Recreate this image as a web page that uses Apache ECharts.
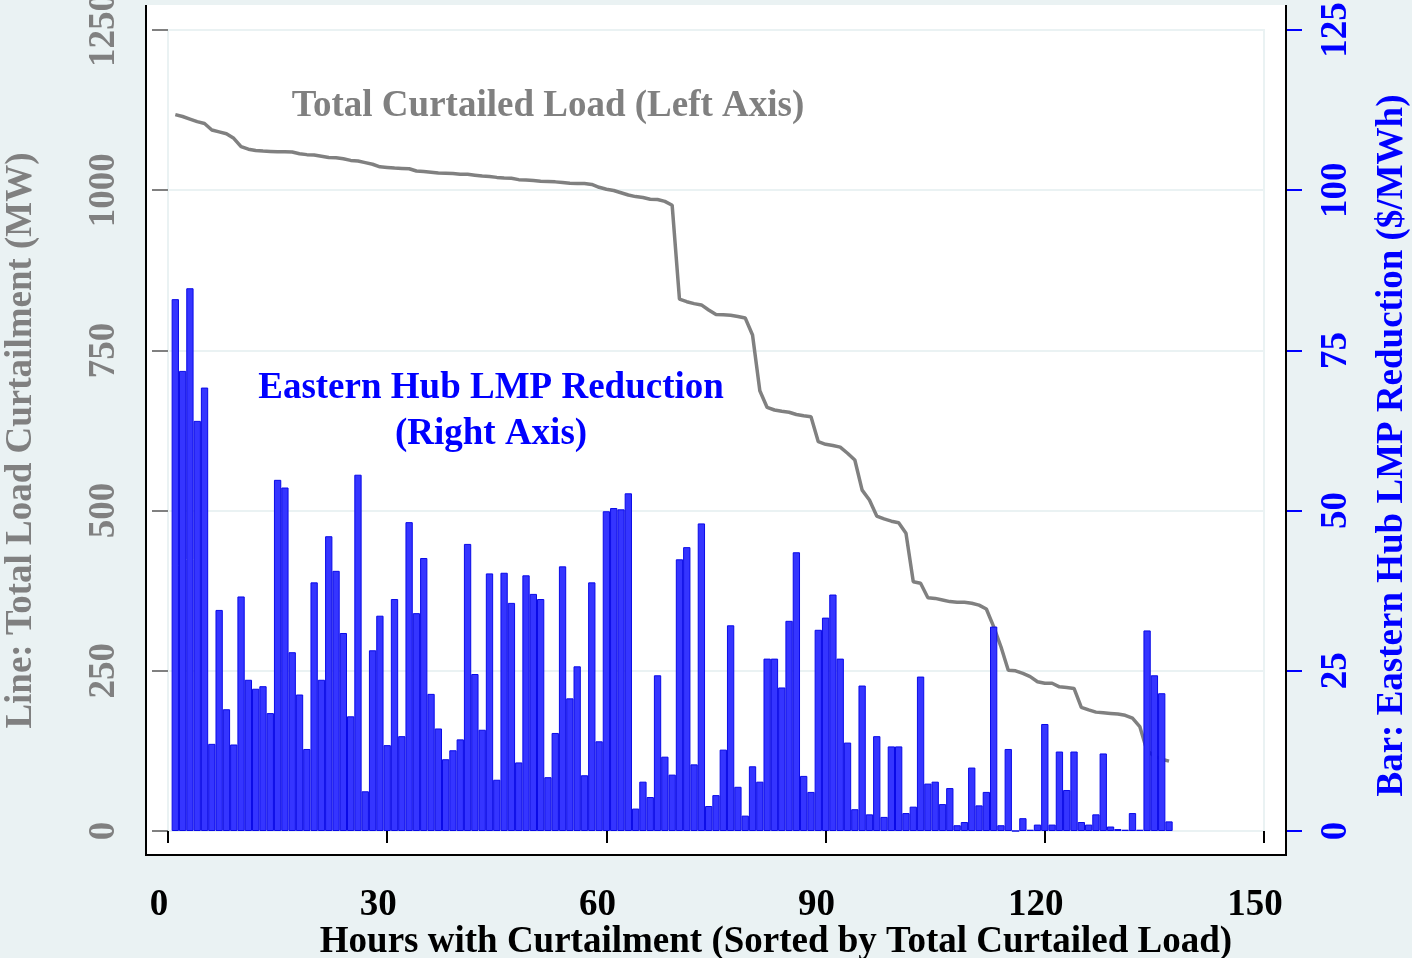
<!DOCTYPE html>
<html>
<head>
<meta charset="utf-8">
<script src="https://cdn.jsdelivr.net/npm/echarts@6/dist/echarts.min.js"></script>
<style>
html,body{margin:0;padding:0;background:#EAF2F3;}
#chart{width:1412px;height:958px;}
</style>
</head>
<body>
<div id="chart"></div>
<script>
// ---- Data ----
const hours = Array.from({length: 137}, (_, i) => i + 1);

const lmpReduction = [
  83.0, 71.8, 84.7, 64.0, 69.2, 13.6, 34.5, 19.0, 13.5, 36.6,
  23.6, 22.2, 22.6, 18.4, 54.8, 53.6, 27.9, 21.3, 12.8, 38.8,
  23.6, 46.0, 40.6, 30.9, 17.9, 55.6, 6.2, 28.2, 33.6, 13.4,
  36.2, 14.8, 48.2, 34.0, 42.6, 21.4, 16.0, 11.2, 12.6, 14.3,
  44.8, 24.5, 15.8, 40.2, 8.0, 40.3, 35.6, 10.7, 39.9, 37.0,
  36.2, 8.4, 15.3, 41.3, 20.7, 25.7, 8.7, 38.8, 14.0, 49.9,
  50.4, 50.2, 52.7, 3.5, 7.7, 5.3, 24.3, 11.6, 8.8, 42.4,
  44.3, 10.4, 48.0, 3.9, 5.6, 12.7, 32.1, 6.9, 2.4, 10.1,
  7.7, 26.9, 26.9, 22.4, 32.8, 43.5, 8.6, 6.1, 31.4, 33.3,
  36.9, 26.9, 13.8, 3.4, 22.7, 2.6, 14.8, 2.2, 13.2, 13.2,
  2.8, 3.8, 24.1, 7.4, 7.7, 4.2, 6.7, 0.9, 1.4, 9.9,
  4.0, 6.1, 31.9, 0.9, 12.8, 0, 2.0, 0.2, 1.0, 16.7,
  1.0, 12.4, 6.4, 12.4, 1.4, 1.0, 2.6, 12.1, 0.7, 0.3,
  0.2, 2.8, 0.2, 31.3, 24.3, 21.5, 1.5
];

const curtailedLoad = [
  1118, 1115, 1111, 1107, 1104, 1094, 1091, 1088, 1081, 1068,
  1064, 1062, 1061, 1060.5, 1060, 1060, 1059.5, 1057, 1055.5, 1055,
  1053, 1051, 1050.5, 1049, 1046.5, 1045.5, 1043, 1040.5, 1036.5, 1035.5,
  1034.5, 1034, 1033.5, 1030, 1029, 1028, 1027, 1026.5, 1026, 1025,
  1025, 1023.5, 1022, 1021.5, 1020, 1019, 1018.5, 1016.5, 1016, 1015,
  1014, 1013.5, 1013, 1012, 1011, 1010.5, 1010.5, 1009, 1004.5, 1001.5,
  999.5, 996, 992.5, 990, 988.5, 986, 985.5, 982.5, 976.5, 830,
  826, 823, 821, 813, 806, 805.5, 805, 803, 800.5, 774,
  687, 661, 657, 655, 653.5, 650, 648, 646.5, 607.5, 603.5,
  601.5, 599, 589.5, 579, 532, 516.5, 491.5, 487, 483.5, 481,
  464.5, 389, 386.5, 364, 363, 360.5, 358, 357, 357, 355.5,
  352.5, 346.5, 319, 287.5, 251, 250, 246, 241, 233, 230.5,
  230.5, 225, 224, 222.5, 193, 189, 185.5, 184.5, 183.5, 182.5,
  180.5, 176, 163, 125, 117, 112, 109
];

const xTicks = {min: 0, max: 150, interval: 30};
const leftTicks = {min: 0, max: 1250, interval: 250};
const rightTicks = {min: 0, max: 125, interval: 25};

const xTitle = 'Hours with Curtailment (Sorted by Total Curtailed Load)';
const leftTitle = 'Line: Total Load Curtailment (MW)';
const rightTitle = 'Bar: Eastern Hub LMP Reduction ($/MWh)';
const lineNote = 'Total Curtailed Load (Left Axis)';
const barNote = 'Eastern Hub LMP Reduction\n(Right Axis)';

// ---- Layout / style ----
const W = 1412, H = 958;
const grid = {left: 168, right: 148, top: 30, bottom: 127};
const axisOffX = 24, axisOffY = 22;
const plotW = W - grid.left - grid.right;
const barW = plotW / (xTicks.max - xTicks.min);
const FONT = 'Liberation Serif';
const GRAY = '#808080';
const BLUE = '#0000ff';
const LIGHT = '#EAF2F3';

const frameL = grid.left - axisOffY, frameR = W - grid.right + axisOffY;
const frameB = H - grid.bottom + axisOffX, frameT = 5;

const chart = echarts.init(document.getElementById('chart'), null, {renderer: 'canvas'});
chart.setOption({
  backgroundColor: LIGHT,
  animation: false,
  grid: {
    left: grid.left, right: grid.right, top: grid.top, bottom: grid.bottom,
    outerBoundsMode: 'none', containLabel: false,
    show: true, borderColor: LIGHT, borderWidth: 2, backgroundColor: 'transparent'
  },
  graphic: [
    {type: 'rect', z: -10, silent: true,
     shape: {x: frameL, y: frameT, width: frameR - frameL, height: frameB - frameT},
     style: {fill: '#ffffff'}},
    {type: 'polyline', z: 10, silent: true,
     shape: {points: [[frameL, frameT], [frameL, frameB], [frameR, frameB], [frameR, frameT]]},
     style: {stroke: '#000', lineWidth: 2, fill: null}},
    {type: 'text', z: 20, silent: true, x: 548, y: 106,
     style: {text: lineNote, fill: GRAY, font: 'bold 37px "' + FONT + '"',
             textAlign: 'center', textVerticalAlign: 'middle'}},
    {type: 'text', z: 20, silent: true, x: 491, y: 411,
     style: {text: barNote, fill: BLUE, font: 'bold 37px "' + FONT + '"', lineHeight: 46,
             textAlign: 'center', textVerticalAlign: 'middle'}}
  ],
  xAxis: {
    type: 'value', min: xTicks.min, max: xTicks.max, interval: xTicks.interval,
    offset: axisOffX,
    axisLine: {show: false},
    axisTick: {show: true, length: 12, lineStyle: {color: '#000', width: 2}},
    axisLabel: {color: '#000', fontFamily: FONT, fontWeight: 'bold', fontSize: 37,
                margin: 32, padding: [0, 18, 0, 0], formatter: v => String(v)},
    splitLine: {show: false},
    name: xTitle, nameLocation: 'middle', nameGap: 69, nameMoveOverlap: false,
    nameTextStyle: {color: '#000', fontFamily: FONT, fontWeight: 'bold', fontSize: 37,
                    padding: [0, 0, 0, 120]}
  },
  yAxis: [
    {
      type: 'value', position: 'left', min: leftTicks.min, max: leftTicks.max,
      interval: leftTicks.interval, offset: axisOffY,
      axisLine: {show: false},
      axisTick: {show: true, length: 16, lineStyle: {color: GRAY, width: 2}},
      axisLabel: {color: GRAY, fontFamily: FONT, fontWeight: 'bold', fontSize: 37,
                  rotate: 90, margin: 23, formatter: v => String(v)},
      splitLine: {show: true, lineStyle: {color: LIGHT, width: 2}},
      name: leftTitle, nameLocation: 'middle', nameRotate: 90, nameGap: 106,
      nameMoveOverlap: false,
      nameTextStyle: {color: GRAY, fontFamily: FONT, fontWeight: 'bold', fontSize: 37,
                      padding: [0, 20, 0, 0]}
    },
    {
      type: 'value', position: 'right', min: rightTicks.min, max: rightTicks.max,
      interval: rightTicks.interval, offset: axisOffY,
      axisLine: {show: false},
      axisTick: {show: true, length: 16, lineStyle: {color: BLUE, width: 2}},
      axisLabel: {color: BLUE, fontFamily: FONT, fontWeight: 'bold', fontSize: 37,
                  rotate: 90, margin: 32, formatter: v => String(v)},
      splitLine: {show: false},
      name: rightTitle, nameLocation: 'middle', nameRotate: 90, nameGap: 88,
      nameMoveOverlap: false,
      nameTextStyle: {color: BLUE, fontFamily: FONT, fontWeight: 'bold', fontSize: 37,
                      padding: [0, 30, 0, 0]}
    }
  ],
  series: [
    {
      type: 'bar', yAxisIndex: 1, barWidth: barW,
      data: hours.map((h, i) => [h, lmpReduction[i]]),
      itemStyle: {color: '#3535ff', borderColor: '#0a0ae8', borderWidth: 1},
      z: 2
    },
    {
      type: 'line', yAxisIndex: 0, symbol: 'none',
      data: hours.map((h, i) => [h, curtailedLoad[i]]),
      lineStyle: {color: GRAY, width: 3.5},
      z: 1
    }
  ]
});
</script>
</body>
</html>
